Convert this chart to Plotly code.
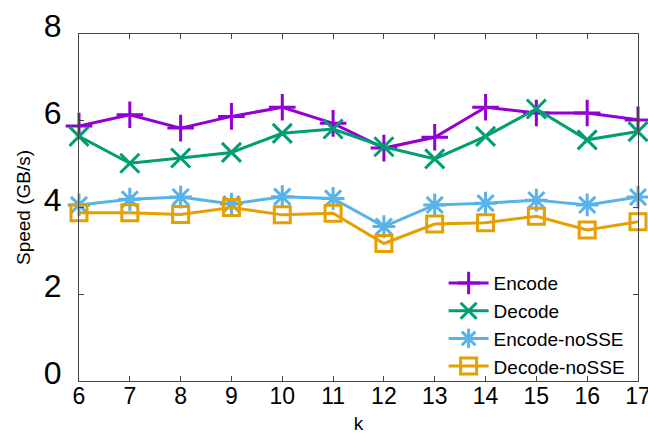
import plotly.graph_objects as go

k = [6, 7, 8, 9, 10, 11, 12, 13, 14, 15, 16, 17]
encode = [5.88, 6.14, 5.83, 6.10, 6.31, 5.94, 5.37, 5.62, 6.31, 6.18, 6.18, 6.02]
decode = [5.64, 5.02, 5.14, 5.27, 5.71, 5.81, 5.40, 5.12, 5.64, 6.27, 5.56, 5.75]
encode_nosse = [4.06, 4.19, 4.24, 4.08, 4.25, 4.21, 3.56, 4.06, 4.10, 4.17, 4.06, 4.24]
decode_nosse = [3.88, 3.88, 3.84, 4.00, 3.83, 3.87, 3.17, 3.62, 3.65, 3.80, 3.48, 3.67]

series = [
    ("Encode", encode, "#9400D3", "cross-thin-open"),
    ("Decode", decode, "#009E73", "x-thin-open"),
    ("Encode-noSSE", encode_nosse, "#56B4E9", "asterisk-open"),
    ("Decode-noSSE", decode_nosse, "#E69F00", "square-open"),
]

fig = go.Figure()
for name, vals, color, sym in series:
    fig.add_trace(go.Scatter(
        x=k, y=vals, name=name, mode="lines+markers",
        line=dict(color=color, width=3),
        marker=dict(symbol=sym, size=19 if sym != "square-open" else 16,
                    color=color, line=dict(color=color, width=3)),
        cliponaxis=False,
    ))

font = "Liberation Sans, Arial, sans-serif"
fig.update_layout(
    width=648, height=434,
    margin=dict(l=79, r=10, t=34, b=53),
    paper_bgcolor="white", plot_bgcolor="white",
    font=dict(family=font, color="black"),
    showlegend=True,
    legend=dict(x=0.985, y=-0.012, xanchor="right", yanchor="bottom",
                bgcolor="rgba(0,0,0,0)", font=dict(size=19, family=font),
                itemwidth=40, tracegroupgap=0),
)
fig.update_xaxes(
    range=[6, 17], dtick=1, tick0=6, automargin=False,
    showgrid=False, zeroline=False,
    showline=True, linecolor="#444", linewidth=1, mirror="ticks",
    ticks="inside", ticklen=5, tickcolor="#444",
    tickfont=dict(size=23, family=font), ticklabeloverflow="allow",
    ticklabelstandoff=-6,
    title=dict(text="k", font=dict(size=19, family=font), standoff=16),
)
fig.update_yaxes(
    range=[0, 8], dtick=2, tick0=0, automargin=False,
    showgrid=False, zeroline=False,
    showline=True, linecolor="#444", linewidth=1, mirror="ticks",
    ticks="inside", ticklen=5, tickcolor="#444",
    tickfont=dict(size=32, family=font), ticklabeloverflow="allow",
    ticklabelshift=-8, ticklabelstandoff=10,
    title=dict(text="Speed (GB/s)", font=dict(size=19, family=font), standoff=8),
)

fig.write_html("out.html")
